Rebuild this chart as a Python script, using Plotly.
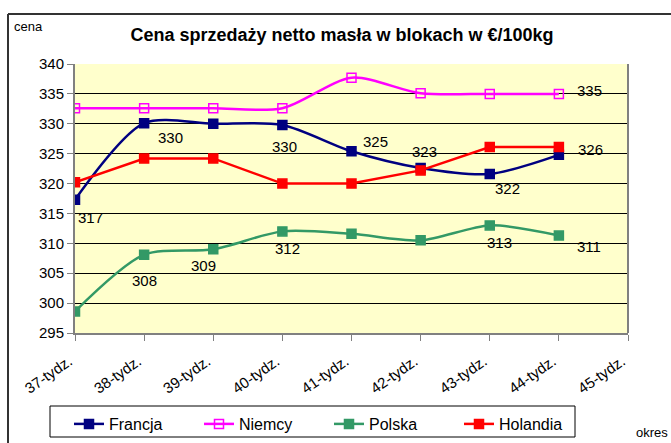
import plotly.graph_objects as go

categories = ["37-tydz.", "38-tydz.", "39-tydz.", "40-tydz.", "41-tydz.",
              "42-tydz.", "43-tydz.", "44-tydz.", "45-tydz."]
francja = [317.3, 330.1, 330.0, 329.8, 325.4, 322.6, 321.6, 324.8]
niemcy = [332.6, 332.6, 332.6, 332.6, 337.7, 335.1, 335.0, 335.0]
polska = [298.6, 308.1, 309.0, 312.0, 311.6, 310.5, 313.0, 311.3]
holandia = [320.2, 324.2, 324.2, 320.0, 320.0, 322.2, 326.1, 326.1]

# data labels: (category index, value, text, xshift, yshift)
label_specs = [
    (0, francja[0], "317", 15, -18),
    (1, francja[1], "330", 26, -14),
    (3, francja[3], "330", 2, -22),
    (4, francja[4], "325", 24, 10),
    (5, francja[5], "323", 4, 17),
    (6, francja[6], "322", 18, -15),
    (1, polska[1], "308", 0, -26),
    (2, polska[2], "309", -10, -16),
    (3, polska[3], "312", 5, -17),
    (6, polska[6], "313", 10, -17),
    (7, polska[7], "311", 30, -11),
    (7, niemcy[7], "335", 31, 3),
    (7, holandia[7], "326", 32, -2),
]

xs = list(range(len(categories)))

fig = go.Figure()
series = [
    ("Francja", francja, "#000080", "square", "spline"),
    ("Niemcy", niemcy, "#FF00FF", "square-open", "spline"),
    ("Polska", polska, "#339966", "square", "spline"),
    ("Holandia", holandia, "#FF0000", "square", "linear"),
]
for name, vals, color, sym, shape in series:
    fig.add_trace(go.Scatter(
        x=xs[:len(vals)], y=vals, name=name, mode="lines+markers",
        line=dict(color=color, width=2.5, shape=shape, smoothing=0.8),
        marker=dict(symbol=sym, size=9, color=color,
                    line=dict(color=color, width=1.5)),
    ))

L, R, T, B = 75, 628, 64, 333

def px2paper(px, py):
    return (px - L) / (R - L), (B - py) / (B - T)

annotations = []
for ci, v, t, dx, dy in label_specs:
    annotations.append(dict(x=ci, y=v, xref="x", yref="y", text=t,
                            showarrow=False, xshift=dx, yshift=dy,
                            font=dict(family="Arial", size=15, color="black")))
cx, cy = px2paper(12, 27)
ox, oy = px2paper(634, 432)
annotations += [
    dict(x=cx, y=cy, xref="paper", yref="paper", text="cena", showarrow=False,
         font=dict(family="Arial", size=13, color="black"), xanchor="left", yanchor="middle"),
    dict(x=ox, y=oy, xref="paper", yref="paper", text="okres", showarrow=False,
         font=dict(family="Arial", size=13, color="black"), xanchor="left", yanchor="middle"),
]

fx0, fy0 = px2paper(8, 14)
fx1, fy1 = px2paper(700, 480)
lx0, ly0 = px2paper(50, 406)
lx1, ly1 = px2paper(575, 437)

shapes = [
    dict(type="line", xref="paper", yref="paper", x0=fx0, y0=fy0, x1=fx1, y1=fy0,
         line=dict(color="#333333", width=2)),
    dict(type="line", xref="paper", yref="paper", x0=fx0, y0=fy0, x1=fx0, y1=fy1,
         line=dict(color="#333333", width=2)),
    dict(type="line", xref="paper", yref="paper", x0=1, y0=0, x1=1, y1=1,
         line=dict(color="#808080", width=2)),
    # legend frame
    dict(type="rect", xref="paper", yref="paper", x0=lx0, y0=ly0, x1=lx1, y1=ly1,
         line=dict(color="black", width=1), fillcolor="white", layer="below"),
]

legx, legy = px2paper(69, 407)

fig.update_layout(
    width=671, height=443,
    margin=dict(l=L, r=671 - R, t=T, b=443 - B, autoexpand=False),
    paper_bgcolor="white", plot_bgcolor="#FFFFCC",
    title=dict(text="<b>Cena sprzedaży netto masła w blokach w €/100kg</b>",
               x=342 / 671, xref="container", xanchor="center",
               y=1 - 35 / 443, yref="container", yanchor="middle",
               font=dict(family="Arial", size=18, color="black")),
    xaxis=dict(range=[0, 8], tickvals=xs, ticktext=categories, tickangle=-35,
               showgrid=False, zeroline=False, showline=True, linecolor="#808080",
               linewidth=2, ticks="outside", ticklen=6, tickcolor="#808080",
               automargin=False, ticklabelstandoff=6, ticklabelshift=-6,
               tickfont=dict(family="Arial", size=15, color="black")),
    yaxis=dict(range=[295, 340], dtick=5, showgrid=True, gridcolor="black",
               gridwidth=1, zeroline=False, showline=True, linecolor="#808080",
               linewidth=2, ticks="outside", ticklen=6, tickcolor="#808080",
               automargin=False,
               tickfont=dict(family="Arial", size=15, color="black")),
    legend=dict(orientation="h", x=legx, y=legy,
                xanchor="left", yanchor="top", borderwidth=0,
                bgcolor="rgba(0,0,0,0)", entrywidth=85, entrywidthmode="pixels",
                font=dict(family="Arial", size=16, color="black")),
    annotations=annotations,
    shapes=shapes,
    showlegend=True,
)

fig.write_html("out.html", config={"displayModeBar": False},
               post_script="document.body.style.margin='0';document.body.style.overflow='hidden';")
